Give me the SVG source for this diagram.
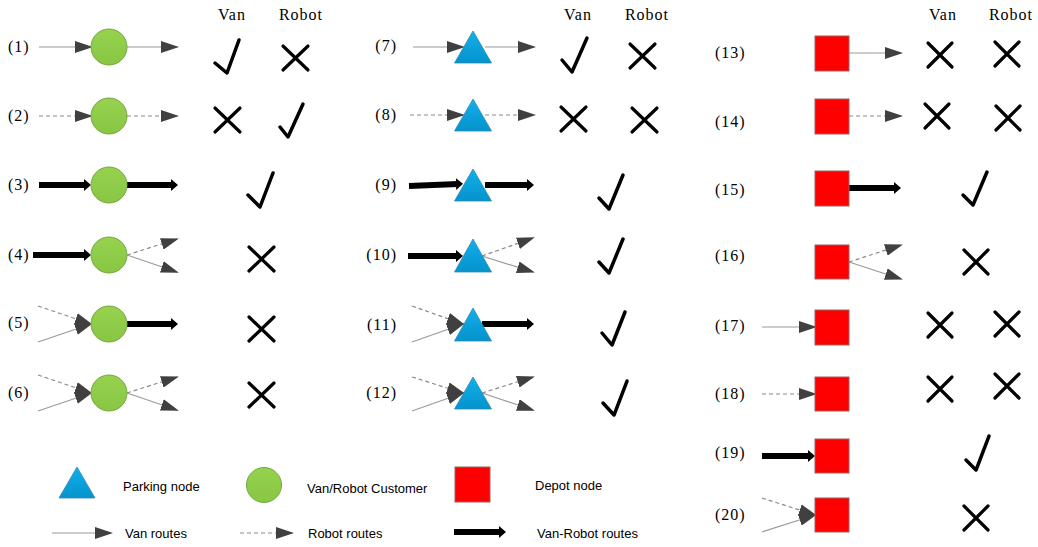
<svg xmlns="http://www.w3.org/2000/svg" width="1038" height="547" viewBox="0 0 1038 547">
<defs>
<linearGradient id="gTri" x1="0" y1="0" x2="0" y2="1"><stop offset="0" stop-color="#12b0ec"/><stop offset="1" stop-color="#0592cc"/></linearGradient>
<linearGradient id="gCir" x1="0" y1="0" x2="0" y2="1"><stop offset="0" stop-color="#96d24e"/><stop offset="1" stop-color="#88c643"/></linearGradient>
<marker id="mv" viewBox="0 0 18 12" refX="16" refY="6" markerWidth="18" markerHeight="12" markerUnits="userSpaceOnUse" orient="auto"><path d="M0 0 L18 6 L0 12 Z" fill="#404040"/></marker>
<marker id="mt" viewBox="0 0 7 12" refX="2" refY="6" markerWidth="7" markerHeight="12" markerUnits="userSpaceOnUse" orient="auto"><path d="M0 0 L7 6 L0 12 Z" fill="#000"/></marker>
<style>
.van{stroke:#9a9a9a;stroke-width:1.2;fill:none;marker-end:url(#mv)}
.rob{stroke:#8a8a8a;stroke-width:1.2;stroke-dasharray:4 3;fill:none;marker-end:url(#mv)}
.vr{stroke:#000;stroke-width:6;fill:none;marker-end:url(#mt)}
.cir{fill:url(#gCir);stroke:#74a842;stroke-width:1}
.tri{fill:url(#gTri);stroke:#2c8ab8;stroke-width:0.8}
.sq{fill:#ff0000;stroke:#9a6060;stroke-width:1}
.ok{fill:none;stroke:#000;stroke-width:3.5;stroke-linecap:round;stroke-linejoin:round}
.no{fill:none;stroke:#000;stroke-width:3.2;stroke-linecap:round}
.lbl{font-family:"Liberation Serif",serif;font-size:16px;letter-spacing:1px;fill:#000}
.hdr{font-family:"Liberation Serif",serif;font-size:16px;letter-spacing:1px;fill:#000;text-anchor:middle}
.leg{font-family:"Liberation Sans",Arial,sans-serif;font-size:13px;fill:#000}
</style>
</defs>

<g id="connectors">
<!-- column 1 -->
<line class="van" x1="39" y1="47" x2="91" y2="47"/>
<line class="van" x1="127" y1="47" x2="177" y2="47"/>
<line class="rob" x1="39" y1="116" x2="91" y2="116"/>
<line class="rob" x1="127" y1="116" x2="177" y2="116"/>
<line class="vr" x1="39" y1="185" x2="86" y2="185"/>
<line class="vr" x1="127" y1="185" x2="173" y2="185"/>
<line class="vr" x1="33" y1="255" x2="86" y2="255"/>
<line class="rob" x1="127" y1="255" x2="177" y2="239"/>
<line class="van" x1="127" y1="255" x2="177" y2="272"/>
<line class="rob" x1="38" y1="306" x2="91" y2="324"/>
<line class="van" x1="38" y1="342" x2="91" y2="324"/>
<line class="vr" x1="127" y1="324" x2="173" y2="324"/>
<line class="rob" x1="38" y1="375" x2="91" y2="393"/>
<line class="van" x1="38" y1="411" x2="91" y2="393"/>
<line class="rob" x1="127" y1="393" x2="177" y2="377"/>
<line class="van" x1="127" y1="393" x2="177" y2="410"/>
<!-- column 2 -->
<line class="van" x1="413" y1="47" x2="463" y2="47"/>
<line class="van" x1="485" y1="47" x2="534" y2="47"/>
<line class="rob" x1="410" y1="115" x2="463" y2="115"/>
<line class="rob" x1="485" y1="115" x2="534" y2="115"/>
<line class="vr" x1="409" y1="186" x2="458" y2="184"/>
<line class="vr" x1="485" y1="185" x2="529" y2="185"/>
<line class="vr" x1="408" y1="256" x2="458" y2="256"/>
<line class="rob" x1="482" y1="256" x2="533" y2="238"/>
<line class="van" x1="482" y1="256" x2="533" y2="272"/>
<line class="rob" x1="412" y1="306" x2="463" y2="324"/>
<line class="van" x1="412" y1="342" x2="463" y2="324"/>
<line class="vr" x1="482" y1="324" x2="529" y2="324"/>
<line class="rob" x1="412" y1="377" x2="463" y2="393"/>
<line class="van" x1="412" y1="411" x2="463" y2="393"/>
<line class="rob" x1="482" y1="393" x2="533" y2="377"/>
<line class="van" x1="482" y1="393" x2="533" y2="410"/>
<!-- column 3 -->
<line class="van" x1="849" y1="53" x2="901" y2="53"/>
<line class="rob" x1="849" y1="116" x2="901" y2="116"/>
<line class="vr" x1="849" y1="188" x2="896" y2="188"/>
<line class="rob" x1="849" y1="262" x2="901" y2="245"/>
<line class="van" x1="849" y1="262" x2="901" y2="279"/>
<line class="van" x1="762" y1="327" x2="815" y2="327"/>
<line class="rob" x1="762" y1="394" x2="815" y2="394"/>
<line class="vr" x1="762" y1="456" x2="810" y2="456"/>
<line class="rob" x1="762" y1="498" x2="815" y2="515"/>
<line class="van" x1="762" y1="532" x2="815" y2="515"/>
<!-- legend -->
<line class="van" x1="52" y1="533" x2="111" y2="533"/>
<line class="rob" x1="240" y1="533" x2="292" y2="533"/>
<line class="vr" x1="454" y1="532" x2="501" y2="532"/>
</g>

<g id="headers">
<text class="hdr" x="232" y="20">Van</text><text class="hdr" x="301" y="20">Robot</text>
<text class="hdr" x="578" y="20">Van</text><text class="hdr" x="647" y="20">Robot</text>
<text class="hdr" x="943" y="20">Van</text><text class="hdr" x="1011" y="20">Robot</text>
</g>

<g id="case1"><text class="lbl" x="8" y="52">(1)</text><circle class="cir" cx="109" cy="47" r="18"/><path class="ok" d="M215 63 L227 73 L239 40"/><path class="no" d="M283 46 L308 70 M308 46 L283 70"/></g>
<g id="case2"><text class="lbl" x="8" y="121">(2)</text><circle class="cir" cx="109" cy="116" r="18"/><path class="no" d="M215 108 L240 132 M240 108 L215 132"/><path class="ok" d="M280 127 L288 137 L303 104"/></g>
<g id="case3"><text class="lbl" x="8" y="190">(3)</text><circle class="cir" cx="109" cy="185" r="18"/><path class="ok" d="M248 195 L260 207 L273 173"/></g>
<g id="case4"><text class="lbl" x="8" y="260">(4)</text><circle class="cir" cx="109" cy="255" r="18"/><path class="no" d="M249 247 L274 271 M274 247 L249 271"/></g>
<g id="case5"><text class="lbl" x="8" y="328">(5)</text><circle class="cir" cx="109" cy="324" r="18"/><path class="no" d="M249 317 L274 341 M274 317 L249 341"/></g>
<g id="case6"><text class="lbl" x="8" y="398">(6)</text><circle class="cir" cx="109" cy="393" r="18"/><path class="no" d="M249 383 L274 407 M274 383 L249 407"/></g>

<g id="case7"><text class="lbl" x="397" y="51" text-anchor="end">(7)</text><path class="tri" d="M473 31 L491.5 63 L454.5 63 Z"/><path class="ok" d="M562 60 L572 72 L587 38"/><path class="no" d="M630 44 L655 68 M655 44 L630 68"/></g>
<g id="case8"><text class="lbl" x="397" y="120" text-anchor="end">(8)</text><path class="tri" d="M473 99 L491.5 131 L454.5 131 Z"/><path class="no" d="M561 107 L586 131 M586 107 L561 131"/><path class="no" d="M632 108 L657 132 M657 108 L632 132"/></g>
<g id="case9"><text class="lbl" x="397" y="190" text-anchor="end">(9)</text><path class="tri" d="M473 169 L491.5 201 L454.5 201 Z"/><path class="ok" d="M599 198 L609 209 L623 175"/></g>
<g id="case10"><text class="lbl" x="397" y="260" text-anchor="end">(10)</text><path class="tri" d="M473 239 L491.5 272 L454.5 272 Z"/><path class="ok" d="M599 262 L609 273 L623 239"/></g>
<g id="case11"><text class="lbl" x="397" y="330" text-anchor="end">(11)</text><path class="tri" d="M473 308 L491.5 341 L454.5 341 Z"/><path class="ok" d="M602 333 L612 345 L625 312"/></g>
<g id="case12"><text class="lbl" x="397" y="398" text-anchor="end">(12)</text><path class="tri" d="M473 377 L491.5 409 L454.5 409 Z"/><path class="ok" d="M603 403 L614 415 L627 381"/></g>

<g id="case13"><text class="lbl" x="715" y="58">(13)</text><rect class="sq" x="815" y="36" width="34" height="35"/><path class="no" d="M928 43 L952 67 M952 43 L928 67"/><path class="no" d="M995 42 L1019 66 M1019 42 L995 66"/></g>
<g id="case14"><text class="lbl" x="715" y="127">(14)</text><rect class="sq" x="815" y="99" width="34" height="35"/><path class="no" d="M925 104 L949 128 M949 104 L925 128"/><path class="no" d="M996 106 L1020 130 M1020 106 L996 130"/></g>
<g id="case15"><text class="lbl" x="715" y="195">(15)</text><rect class="sq" x="815" y="171" width="34" height="35"/><path class="ok" d="M963 195 L973 205 L987 172"/></g>
<g id="case16"><text class="lbl" x="715" y="261">(16)</text><rect class="sq" x="815" y="245" width="34" height="34"/><path class="no" d="M964 250 L988 274 M988 250 L964 274"/></g>
<g id="case17"><text class="lbl" x="715" y="331">(17)</text><rect class="sq" x="815" y="310" width="34" height="35"/><path class="no" d="M928 313 L952 337 M952 313 L928 337"/><path class="no" d="M995 312 L1019 336 M1019 312 L995 336"/></g>
<g id="case18"><text class="lbl" x="715" y="399">(18)</text><rect class="sq" x="815" y="377" width="34" height="34"/><path class="no" d="M928 377 L952 401 M952 377 L928 401"/><path class="no" d="M995 374 L1019 398 M1019 374 L995 398"/></g>
<g id="case19"><text class="lbl" x="715" y="458">(19)</text><rect class="sq" x="815" y="439" width="34" height="34"/><path class="ok" d="M966 460 L976 470 L989 436"/></g>
<g id="case20"><text class="lbl" x="715" y="520">(20)</text><rect class="sq" x="815" y="498" width="34" height="34"/><path class="no" d="M964 506 L988 530 M988 506 L964 530"/></g>

<g id="legend-parking"><path class="tri" d="M77 467 L95 498 L59 498 Z"/><text class="leg" x="123" y="491">Parking node</text></g>
<g id="legend-customer"><ellipse class="cir" cx="264" cy="485" rx="17.5" ry="17.5"/><text class="leg" x="307" y="493">Van/Robot Customer</text></g>
<g id="legend-depot"><rect class="sq" x="455" y="467" width="35" height="35"/><text class="leg" x="535" y="490">Depot node</text></g>
<g id="legend-routes"><text class="leg" x="125" y="538">Van routes</text><text class="leg" x="308" y="538">Robot routes</text><text class="leg" x="537" y="538">Van-Robot routes</text></g>
</svg>
